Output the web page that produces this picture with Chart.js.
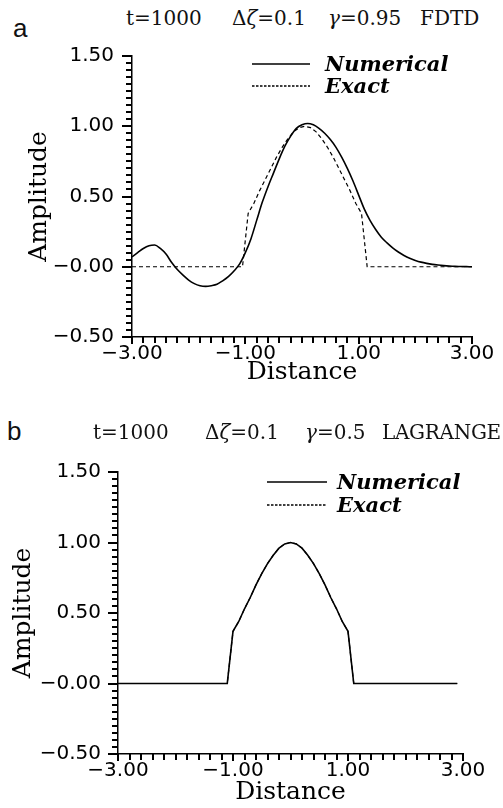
<!DOCTYPE html>
<html>
<head>
<meta charset="utf-8">
<script src="https://cdn.jsdelivr.net/npm/chart.js@4"></script>
<style>
  body { margin: 0; background: #fff; }
  #page { position: relative; width: 503px; height: 808px; overflow: hidden; }
  .box { position: absolute; left: 0; width: 503px; }
  .tag { position: absolute; font: 26px "Liberation Sans", sans-serif; color: #111; line-height: 28px; }
  .ttl { position: absolute; font: 20px "DejaVu Serif", serif; color: #111; line-height: 22px; white-space: pre; }
</style>
</head>
<body>
<div id="page">
  <div class="tag" style="left:13px;top:14px">a</div>
  <div class="ttl" style="left:126px;top:7px">t=1000</div>
  <div class="ttl" style="left:232px;top:7px">Δ<i>ζ</i>=0.1</div>
  <div class="ttl" style="left:328px;top:7px"><i>γ</i>=0.95</div>
  <div class="ttl" style="left:420px;top:7px">FDTD</div>
  <div class="box" style="top:0;height:392px"><canvas id="chartA"></canvas></div>

  <div class="tag" style="left:7px;top:417px">b</div>
  <div class="ttl" style="left:93px;top:421px">t=1000</div>
  <div class="ttl" style="left:205px;top:421px">Δ<i>ζ</i>=0.1</div>
  <div class="ttl" style="left:305px;top:421px"><i>γ</i>=0.5</div>
  <div class="ttl" style="left:382px;top:421px;letter-spacing:-0.3px">LAGRANGE</div>
  <div class="box" style="top:390px;height:418px"><canvas id="chartB"></canvas></div>
</div>
<script>
// panel a: FDTD, gamma = 0.95
const distA = [-3.0, -2.9, -2.8, -2.7, -2.6, -2.5, -2.4, -2.3, -2.2, -2.1,
  -2.0, -1.9, -1.8, -1.7, -1.6, -1.5, -1.4, -1.3, -1.2, -1.1,
  -1.0, -0.9, -0.8, -0.7, -0.6, -0.5, -0.4, -0.3, -0.2, -0.1,
  0.0, 0.1, 0.2, 0.3, 0.4, 0.5, 0.6, 0.7, 0.8, 0.9,
  1.0, 1.1, 1.2, 1.3, 1.4, 1.5, 1.6, 1.7, 1.8, 1.9,
  2.0, 2.1, 2.2, 2.3, 2.4, 2.5, 2.6, 2.7, 2.8, 2.9, 3.0];
const numericalA = [0.07, 0.10, 0.13, 0.15, 0.155, 0.13, 0.09, 0.03, -0.02, -0.06,
  -0.095, -0.12, -0.135, -0.14, -0.135, -0.125, -0.10, -0.07, -0.03, 0.02,
  0.10, 0.20, 0.33, 0.46, 0.57, 0.67, 0.77, 0.86, 0.93, 0.985,
  1.01, 1.02, 1.01, 0.985, 0.95, 0.905, 0.85, 0.78, 0.70, 0.61,
  0.51, 0.41, 0.33, 0.265, 0.21, 0.17, 0.135, 0.105, 0.08, 0.06,
  0.045, 0.033, 0.024, 0.017, 0.012, 0.008, 0.005, 0.003, 0.002, 0.001, 0.0];
const exactDistA = [-3.0, -1.05, -0.95, -0.85, -0.75, -0.65, -0.55, -0.45, -0.35, -0.25, -0.15, -0.05,
  0.05, 0.15, 0.25, 0.35, 0.45, 0.55, 0.65, 0.75, 0.85, 0.95, 1.05, 1.15, 3.0];
const exactA = [0, 0, 0.38, 0.45, 0.54, 0.62, 0.70, 0.78, 0.85, 0.91, 0.96, 0.99,
  1.0, 0.99, 0.96, 0.91, 0.85, 0.78, 0.70, 0.62, 0.54, 0.45, 0.38, 0, 0];

// panel b: Lagrange, gamma = 0.5 (numerical lies on top of exact)
const distB = [-3.0, -1.1, -1.0, -0.9, -0.8, -0.7, -0.6, -0.5, -0.4, -0.3, -0.2, -0.1,
  0.0, 0.1, 0.2, 0.3, 0.4, 0.5, 0.6, 0.7, 0.8, 0.9, 1.0, 1.1, 2.9];
const numericalB = [0, 0, 0.37, 0.44, 0.53, 0.61, 0.70, 0.78, 0.85, 0.91, 0.96, 0.99,
  1.0, 0.99, 0.96, 0.91, 0.85, 0.78, 0.70, 0.61, 0.53, 0.44, 0.37, 0, 0];
const exactB = [0, 0, 0.37, 0.44, 0.53, 0.61, 0.70, 0.78, 0.85, 0.91, 0.96, 0.99,
  1.0, 0.99, 0.96, 0.91, 0.85, 0.78, 0.70, 0.61, 0.53, 0.44, 0.37, 0, 0];

const legendLabels = ["Numerical", "Exact"];
const xMajor = [-3, -1, 1, 3];
const yMajor = [-0.5, 0, 0.5, 1.0, 1.5];
// minor tick spacing on each axis
const xStep = 0.2;
const yStep = 0.05;

const ink = '#000';

function pts(xs, ys) {
  return xs.map((x, i) => ({ x: x, y: ys[i] }));
}

function fmt(v) {
  if (Math.abs(v) < 1e-9) return '\u22120.00';
  return (v < 0 ? '\u2212' : '') + Math.abs(v).toFixed(2);
}

function isMajor(v, list) {
  return list.some(m => Math.abs(v - m) < 1e-6);
}

// legend inside the plot + tick marks outside the axes
const decor = {
  id: 'decor',
  afterDraw(chart) {
    const opts = chart.options.plugins.decor;
    const ctx = chart.ctx;
    const area = chart.chartArea;
    const xs = chart.scales.x, ys = chart.scales.y;
    ctx.save();

    // ticks: every step, longer at labelled values
    ctx.fillStyle = ink;
    const ny = Math.round((ys.max - ys.min) / yStep);
    for (let i = 0; i <= ny; i++) {
      const v = ys.min + i * yStep;
      const py = Math.round(ys.getPixelForValue(v));
      const len = isMajor(v, yMajor) ? 10 : 6;
      ctx.fillRect(area.left - len, py - 1, len, 2);
    }
    const nx = Math.round((xs.max - xs.min) / xStep);
    for (let i = 0; i <= nx; i++) {
      const v = xs.min + i * xStep;
      const px = Math.round(xs.getPixelForValue(v));
      const len = isMajor(v, xMajor) ? 7 : 6;
      ctx.fillRect(px - 1, area.bottom, 2, len);
    }

    // legend
    chart.data.datasets.forEach((ds, i) => {
      const y = area.top + opts.top + i * opts.gap;
      const x0 = area.left + opts.left;
      ctx.beginPath();
      ctx.strokeStyle = ink;
      ctx.setLineDash(i === 0 ? [] : [2.5, 1.5]);
      ctx.lineWidth = 1.3;
      ctx.moveTo(x0, y);
      ctx.lineTo(x0 + opts.length, y);
      ctx.stroke();
      ctx.setLineDash([]);
      ctx.font = 'italic bold 21px "DejaVu Serif"';
      ctx.textBaseline = 'middle';
      ctx.fillText(ds.label, x0 + opts.length + opts.textGap, y + 2);
    });
    ctx.restore();
  }
};

function makeChart(id, cfg) {
  return new Chart(document.getElementById(id), {
    type: 'line',
    data: {
      datasets: [
        {
          label: legendLabels[0],
          data: cfg.numerical,
          borderColor: ink,
          borderWidth: 1.6,
          pointRadius: 0,
          cubicInterpolationMode: cfg.smooth ? 'monotone' : 'default',
          tension: 0
        },
        {
          label: legendLabels[1],
          data: cfg.exact,
          borderColor: ink,
          borderWidth: 1.2,
          borderDash: [4, 3],
          pointRadius: 0,
          tension: 0
        }
      ]
    },
    options: {
      responsive: true,
      maintainAspectRatio: false,
      animation: false,
      events: [],
      layout: { padding: { top: cfg.top, right: 503 - cfg.right, left: 0, bottom: 0 } },
      plugins: {
        legend: { display: false },
        tooltip: { enabled: false },
        decor: cfg.legend
      },
      scales: {
        x: {
          type: 'linear',
          min: -3, max: 3,
          afterFit: s => { s.height = cfg.xHeight; },
          border: { display: true, color: ink, width: 1.5 },
          grid: { display: true, drawOnChartArea: false, drawTicks: true, tickLength: 5, color: 'rgba(0,0,0,0)' },
          ticks: {
            stepSize: xStep,
            autoSkip: false,
            maxRotation: 0,
            padding: 0,
            color: ink,
            font: { family: 'DejaVu Sans', size: 20 },
            callback: v => isMajor(v, xMajor) ? fmt(v) : ''
          },
          title: {
            display: true,
            text: 'Distance',
            color: ink,
            font: { family: 'DejaVu Serif', size: 25 },
            padding: { top: 0, bottom: cfg.xTitlePad }
          }
        },
        y: {
          min: -0.5, max: 1.5,
          afterFit: s => { s.width = cfg.left; },
          border: { display: true, color: ink, width: 1.5 },
          grid: { display: true, drawOnChartArea: false, drawTicks: true, tickLength: 4, color: 'rgba(0,0,0,0)' },
          ticks: {
            stepSize: yStep,
            autoSkip: false,
            padding: cfg.yTickPad,
            color: ink,
            font: { family: 'DejaVu Sans', size: 20 },
            callback: v => isMajor(v, yMajor) ? fmt(v) : ''
          },
          title: {
            display: true,
            text: 'Amplitude',
            color: ink,
            font: { family: 'DejaVu Serif', size: 25 },
            padding: { top: cfg.yTitlePad, bottom: 0 }
          }
        }
      }
    },
    plugins: [decor]
  });
}

makeChart('chartA', {
  numerical: pts(distA, numericalA),
  exact: pts(exactDistA, exactA),
  smooth: true,
  top: 56, left: 132, right: 472,
  xHeight: 55, xTitlePad: 5,
  yTickPad: 14, yTitlePad: 24,
  legend: { left: 120, top: 8, gap: 22, length: 58, textGap: 15 }
});

makeChart('chartB', {
  numerical: pts(distB, numericalB),
  exact: pts(distB, exactB),
  smooth: false,
  top: 82, left: 118, right: 463,
  xHeight: 54, xTitlePad: 1,
  yTickPad: 13, yTitlePad: 8,
  legend: { left: 149, top: 10, gap: 23, length: 60, textGap: 10 }
});
</script>
</body>
</html>
